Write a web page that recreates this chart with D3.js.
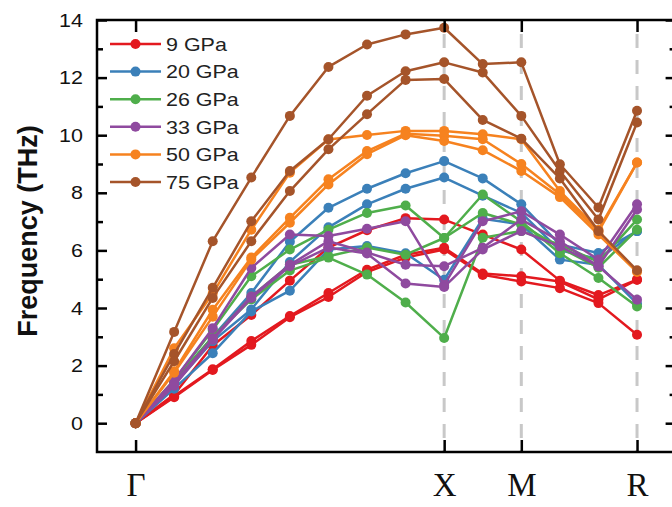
<!DOCTYPE html>
<html>
<head>
<meta charset="utf-8">
<script src="https://cdn.jsdelivr.net/npm/d3@7"></script>
<style>
  html, body { margin: 0; padding: 0; background: #fff; }
  svg { display: block; }
</style>
</head>
<body>
<svg id="chart" width="672" height="507"></svg>
<script>
// k-path sample index (0..13) and high-symmetry labels
const kIndex = [0, 1, 2, 3, 4, 5, 6, 7, 8, 9, 10, 11, 12, 13];
const symIndex = [0, 8, 10, 13];
const symLabels = ["Γ", "X", "M", "R"];

const pressures = ["9 GPa", "20 GPa", "26 GPa", "33 GPa", "50 GPa", "75 GPa"];
const colors = ["#e3191f", "#3b80b9", "#4fae4b", "#8f4a9f", "#f6821f", "#a5542a"];

// acoustic branches (THz) for each pressure
const p9 = [
  [0, 1.0, 2.7, 3.76, 4.95, 6.1, 6.7, 7.12, 7.07, 6.55, 6.03, 4.95, 4.45, 4.98],
  [0, 0.94, 1.87, 2.85, 3.72, 4.52, 5.33, 5.85, 6.09, 5.2, 5.1, 4.92, 4.3, 4.98],
  [0, 0.9, 1.85, 2.72, 3.68, 4.38, 5.25, 5.75, 6.03, 5.15, 4.92, 4.69, 4.17, 3.07]
];
const p20 = [
  [0, 1.45, 3.0, 4.52, 6.3, 7.48, 8.14, 8.68, 9.1, 8.5, 7.6, 6.2, 5.91, 6.67],
  [0, 1.35, 2.85, 3.95, 5.6, 6.8, 7.6, 8.14, 8.53, 7.9, 7.3, 6.0, 5.7, 6.67],
  [0, 1.2, 2.43, 3.88, 4.6, 6.03, 6.15, 5.9, 4.98, 7.1, 6.9, 5.68, 5.5, 4.15]
];
const p26 = [
  [0, 1.5, 3.24, 5.1, 6.03, 6.72, 7.3, 7.56, 6.43, 7.94, 7.0, 5.9, 5.04, 4.05],
  [0, 1.45, 3.0, 4.3, 5.3, 5.75, 5.16, 4.19, 2.96, 6.44, 6.67, 6.2, 5.6, 7.07],
  [0, 1.4, 2.95, 4.4, 5.5, 5.8, 6.1, 5.85, 6.43, 7.3, 6.9, 6.1, 5.4, 6.72]
];
const p33 = [
  [0, 1.5, 3.3, 5.39, 6.55, 6.5, 6.75, 7.01, 4.8, 7.01, 7.36, 6.55, 5.68, 7.6],
  [0, 1.4, 2.95, 4.4, 5.5, 6.32, 5.93, 5.5, 5.45, 6.09, 7.07, 6.32, 5.45, 7.42],
  [0, 1.3, 2.9, 4.35, 5.45, 6.1, 5.89, 4.85, 4.73, 6.03, 6.67, 6.14, 5.45, 4.29]
];
const p50 = [
  [0, 2.6, 4.5, 6.72, 8.7, 9.85, 10.01, 10.15, 10.15, 10.03, 9.86, 8.06, 6.72, 9.05],
  [0, 1.8, 3.94, 5.75, 7.13, 8.47, 9.45, 10.05, 9.98, 9.86, 9.0, 7.95, 6.65, 9.05],
  [0, 1.75, 3.7, 5.68, 6.96, 8.29, 9.34, 10.0, 9.8, 9.48, 8.76, 7.85, 6.55, 5.25]
];
const p75 = [
  [0, 3.17, 6.32, 8.53, 10.67, 12.37, 13.15, 13.5, 13.73, 12.47, 12.53, 8.99, 7.49, 10.85],
  [0, 2.4, 4.7, 7.01, 8.76, 9.86, 11.37, 12.22, 12.53, 12.18, 10.67, 8.76, 7.07, 10.44],
  [0, 2.15, 4.35, 6.32, 8.06, 9.51, 10.73, 11.92, 11.95, 10.53, 9.88, 8.5, 6.67, 5.31]
];
const branchSets = [p9, p20, p26, p33, p50, p75];

const yMajor = [0, 2, 4, 6, 8, 10, 12, 14];
const yMinor = [1, 3, 5, 7, 9, 11, 13];

const svg = d3.select("#chart");
const plotLeft = 97, plotRight = 675.6, plotTop = 20, plotBottom = 452;
const textStretch = 1.13; // slightly widened sans-serif labels

const x = d3.scaleLinear().domain([-1, 14]).range([plotLeft, plotRight]);
const y = d3.scaleLinear().domain([-1, 14]).range([plotBottom, plotTop]);

// dashed guides at the zone-boundary points
svg.append("g").selectAll("line")
  .data(symIndex.slice(1))
  .join("line")
  .attr("x1", d => x(d)).attr("x2", d => x(d))
  .attr("y1", plotTop + 14).attr("y2", plotBottom)
  .attr("stroke", "#c8c8c8")
  .attr("stroke-width", 3)
  .attr("stroke-dasharray", "14,12");

// dispersion curves
const line = d3.line().x((d, i) => x(kIndex[i])).y(d => y(d));
branchSets.forEach((branches, si) => {
  const g = svg.append("g");
  g.selectAll("path")
    .data(branches)
    .join("path")
    .attr("d", line)
    .attr("fill", "none")
    .attr("stroke", colors[si])
    .attr("stroke-width", 2.5)
    .attr("stroke-linejoin", "round");
  branches.forEach(b => {
    g.append("g").selectAll("circle")
      .data(b)
      .join("circle")
      .attr("cx", (d, i) => x(kIndex[i]))
      .attr("cy", d => y(d))
      .attr("r", 5)
      .attr("fill", colors[si]);
  });
});

// frame and axes
const axisStyle = sel => {
  sel.select(".domain").remove();
  sel.selectAll(".tick line").attr("stroke", "#000").attr("stroke-width", 2.5);
};
svg.append("g").attr("transform", `translate(${plotLeft},0)`)
  .call(d3.axisLeft(y).tickValues(yMajor).tickSizeInner(-10).tickSizeOuter(0).tickPadding(12.5))
  .call(axisStyle)
  .call(g => g.selectAll("text")
    .attr("font-family", "Liberation Sans, Arial, sans-serif")
    .attr("font-size", 19).attr("fill", "#111")
    .attr("transform", `scale(${textStretch},1)`));
svg.append("g").attr("transform", `translate(${plotLeft},0)`)
  .call(d3.axisLeft(y).tickValues(yMinor).tickSizeInner(-6).tickSizeOuter(0).tickFormat(""))
  .call(axisStyle);
svg.append("g").attr("transform", `translate(${plotRight},0)`)
  .call(d3.axisRight(y).tickValues(yMajor).tickSizeInner(-10).tickSizeOuter(0).tickFormat(""))
  .call(axisStyle);
svg.append("g").attr("transform", `translate(${plotRight},0)`)
  .call(d3.axisRight(y).tickValues(yMinor).tickSizeInner(-6).tickSizeOuter(0).tickFormat(""))
  .call(axisStyle);
svg.append("g").attr("transform", `translate(0,${plotBottom})`)
  .call(d3.axisBottom(x).tickValues(symIndex).tickSizeInner(-12).tickSizeOuter(0)
    .tickPadding(21).tickFormat((d, i) => symLabels[i]))
  .call(axisStyle)
  .call(g => g.selectAll("text")
    .attr("font-family", "Liberation Serif, Times New Roman, serif")
    .attr("font-size", 33).attr("fill", "#111"));
svg.append("g").attr("transform", `translate(0,${plotTop})`)
  .call(d3.axisTop(x).tickValues(symIndex).tickSizeInner(-12).tickSizeOuter(0).tickFormat(""))
  .call(axisStyle);

svg.append("path")
  .attr("d", `M${plotRight},${plotTop}H${plotLeft}V${plotBottom}H${plotRight}`)
  .attr("fill", "none").attr("stroke", "#000").attr("stroke-width", 2.5);

// y-axis title
svg.append("text")
  .attr("transform", `translate(37,${(plotTop + plotBottom) / 2 - 5}) rotate(-90)`)
  .attr("text-anchor", "middle")
  .attr("font-family", "Liberation Sans, Arial, sans-serif")
  .attr("font-weight", "bold")
  .attr("font-size", 27)
  .attr("fill", "#111")
  .text("Frequency (THz)");

// legend
const legend = svg.append("g");
const legY0 = 44, legDy = 27.6;
pressures.forEach((p, i) => {
  const ly = legY0 + i * legDy;
  legend.append("line")
    .attr("x1", 110).attr("x2", 161).attr("y1", ly).attr("y2", ly)
    .attr("stroke", colors[i]).attr("stroke-width", 2.5);
  legend.append("circle").attr("cx", 135.5).attr("cy", ly).attr("r", 5).attr("fill", colors[i]);
  legend.append("text")
    .attr("transform", `translate(166,${ly}) scale(${textStretch},1)`)
    .attr("dy", "0.36em")
    .attr("font-family", "Liberation Sans, Arial, sans-serif")
    .attr("font-size", 19).attr("fill", "#222")
    .text(p);
});
</script>
</body>
</html>
